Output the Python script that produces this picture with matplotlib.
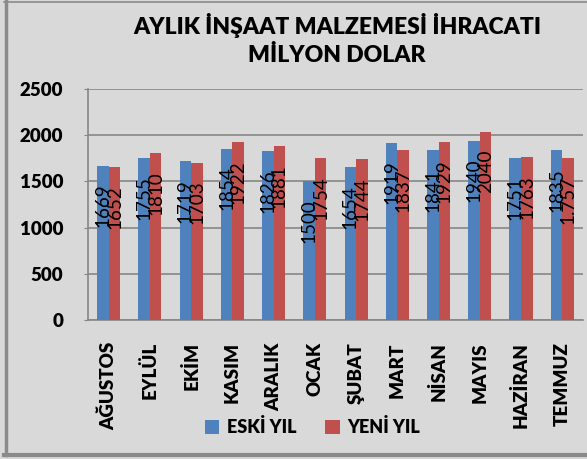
import matplotlib.pyplot as plt
import numpy as np
from matplotlib.lines import Line2D

plt.rcParams['font.family'] = ['Lato', 'DejaVu Sans']

aylar = ['AĞUSTOS', 'EYLÜL', 'EKİM', 'KASIM', 'ARALIK', 'OCAK', 'ŞUBAT',
         'MART', 'NİSAN', 'MAYIS', 'HAZİRAN', 'TEMMUZ']
eski_yil = [1669, 1755, 1719, 1854, 1826, 1500, 1654, 1919, 1841, 1940, 1751, 1835]
yeni_yil = [1652, 1810, 1703, 1922, 1881, 1754, 1744, 1837, 1929, 2040, 1763, 1757]
yeni_etiket = ['1652', '1810', '1703', '1922', '1881', '1754', '1744', '1837',
               '1929', '2040', '1763', '1.757']

bg = '#d9d9d9'
fig = plt.figure(figsize=(5.87, 4.59), dpi=100, facecolor=bg)
ax = fig.add_axes([0.150, 0.3028, 0.843, 0.5033])
ax.set_facecolor(bg)

x = np.arange(len(aylar))
w = 0.28
b1 = ax.bar(x - w / 2, eski_yil, w, color='#4f81bd', label='ESKİ YIL', zorder=3)
b2 = ax.bar(x + w / 2, yeni_yil, w, color='#c0504d', label='YENİ YIL', zorder=3)

# etiketler: bar tepesinin biraz altinda, dikey
for rect, txt in zip(list(b1) + list(b2),
                     [str(v) for v in eski_yil] + yeni_etiket):
    ax.annotate(txt, (rect.get_x() + rect.get_width() / 2, rect.get_height()),
                xytext=(0, -13), textcoords='offset points',
                rotation=90, ha='center', va='top', fontsize=13.5, zorder=4)

ax.set_xlim(-0.5, len(aylar) - 0.5)
ax.set_ylim(0, 2500)
ax.set_yticks(range(0, 2501, 500))
ax.yaxis.grid(True, color='#878787', linewidth=1.2, zorder=0)
ax.set_xticks(x)
ax.set_xticklabels(aylar, rotation=90, fontsize=13.5, fontweight='heavy')
ax.tick_params(axis='x', length=0, pad=16)
ax.tick_params(axis='y', length=3, color='#878787', pad=15, labelsize=13.5)
for lbl in ax.get_yticklabels():
    lbl.set_fontweight('heavy')

for s in ['top', 'right']:
    ax.spines[s].set_visible(False)
for s in ['left', 'bottom']:
    ax.spines[s].set_color('#878787')
    ax.spines[s].set_linewidth(1.2)

fig.text(0.574, 0.945, 'AYLIK İNŞAAT MALZEMESİ İHRACATI', ha='center', va='center',
         fontsize=16.5, fontweight='heavy')
fig.text(0.574, 0.880, 'MİLYON DOLAR', ha='center', va='center',
         fontsize=16.5, fontweight='heavy')

fig.legend(handles=[b1, b2], loc='center', bbox_to_anchor=(0.532, 0.070),
           ncol=2, frameon=False, prop={'weight': 'heavy', 'size': 13},
           handlelength=0.8, handleheight=0.8, columnspacing=1.6, handletextpad=0.4)

# cerceve: sol, ust ve alt kenar
kenar = '#8a8a8a'
fig.lines.append(Line2D([5.5 / 587, 5.5 / 587], [4 / 459, 1 - 1 / 459],
                        transform=fig.transFigure, color=kenar, linewidth=2.5))
fig.lines.append(Line2D([4 / 587, 1], [1 - 1.5 / 459, 1 - 1.5 / 459],
                        transform=fig.transFigure, color=kenar, linewidth=1.2))
fig.lines.append(Line2D([4 / 587, 1], [4 / 459, 4 / 459],
                        transform=fig.transFigure, color=kenar, linewidth=3))

fig.savefig('out.png', dpi=100, facecolor=bg)
